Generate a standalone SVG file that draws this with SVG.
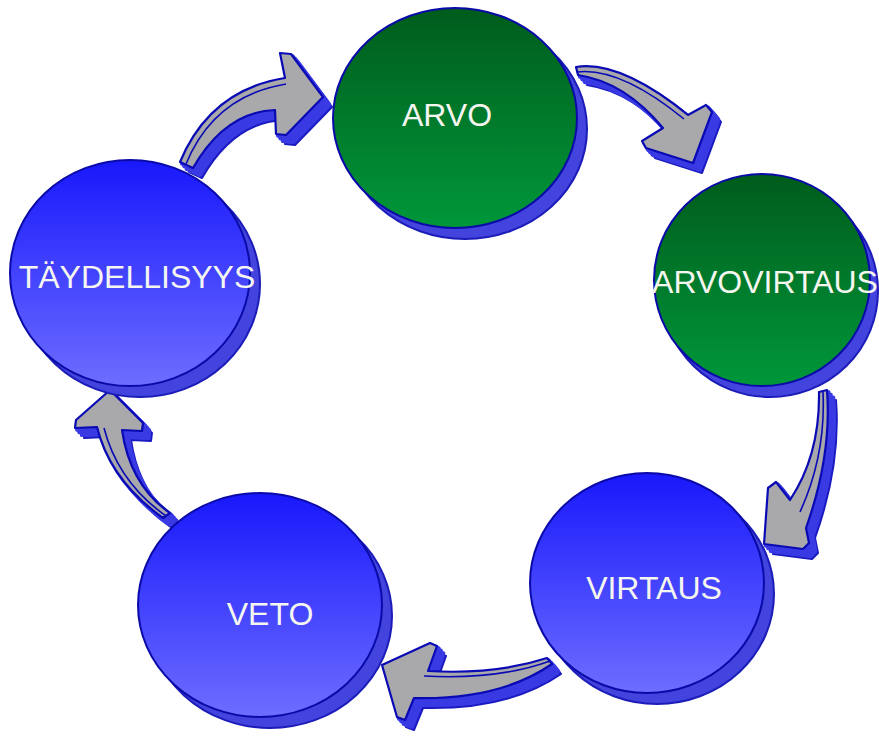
<svg xmlns="http://www.w3.org/2000/svg" xmlns:xlink="http://www.w3.org/1999/xlink" width="879" height="737" viewBox="0 0 879 737">
<style>
.face{fill:#a9a9ab;stroke:#0a0ab4;stroke-width:2.2;stroke-linejoin:round}
.ext{fill:#3a3ae4;stroke:#3a3ae4;stroke-width:3.5;stroke-linejoin:round}
.extb{fill:#3a3ae4;stroke:#1a1ac0;stroke-width:2;stroke-linejoin:round}
.hl{fill:none;stroke:#0a0ab4;stroke-width:1.6}
.sh{fill:#4343de;stroke:#1c1cb8;stroke-width:2}
.blue{fill:url(#gb);stroke:#0a0aa8;stroke-width:2}
.green{fill:url(#gg);stroke:#0a0aa8;stroke-width:2}
.lbl{font-family:"Liberation Sans",Arial,sans-serif;font-size:32px;fill:#f6f6f0;text-anchor:middle}
</style>
<defs>
<linearGradient id="gb" x1="0" y1="0" x2="0" y2="1">
<stop offset="0" stop-color="#1818fc"/>
<stop offset="1" stop-color="#6d6dff"/>
</linearGradient>
<linearGradient id="gg" x1="0" y1="0" x2="0" y2="1">
<stop offset="0" stop-color="#005c1c"/>
<stop offset="1" stop-color="#00973a"/>
</linearGradient>
<path id="a1" d="M180,162 Q210,90 285,78 L280,53 L291,54 L323,97 L286,135 L276,134 L275,110 Q225,112 193,168 Z"/>
<path id="a2" d="M576,67 Q620,60 688,115 L706,105 L712,112 L693,163 L646,148 L642,141 L663,128 Q625,82 578,75 Z"/>
<path id="a3" d="M819,392 Q820,455 790,500 L776,482 L768,488 L764,544 L803,549 L809,543 L806,528 Q832,455 827,390 Z"/>
<path id="a4" d="M547,658 Q495,675 428,671 L437,646 L430,643 L382,665 L397,717 L405,720 L414,698 Q500,700 552,664 Z"/>
<path id="a5" d="M163,518 Q110,480 97,427 L75,428 L76,420 L110,390 L143,423 L142,431 L122,430 Q130,485 170,513 Z"/>
</defs>
<g id="connectors">
<g id="arrow-1">
<use xlink:href="#a1" class="extb" transform="translate(9,10)"/>
<use xlink:href="#a1" class="ext" transform="translate(6.5,7.2)"/>
<use xlink:href="#a1" class="ext" transform="translate(4,4.4)"/>
<use xlink:href="#a1" class="ext" transform="translate(1.8,2)"/>
<use xlink:href="#a1" class="face"/>
<path class="hl" d="M186,164 Q214,96 286,84"/>
</g>
<g id="arrow-2">
<use xlink:href="#a2" class="extb" transform="translate(9,10)"/>
<use xlink:href="#a2" class="ext" transform="translate(6.5,7.2)"/>
<use xlink:href="#a2" class="ext" transform="translate(4,4.4)"/>
<use xlink:href="#a2" class="ext" transform="translate(1.8,2)"/>
<use xlink:href="#a2" class="face"/>
<path class="hl" d="M577,72 Q620,67 684,119"/>
</g>
<g id="arrow-3">
<use xlink:href="#a3" class="extb" transform="translate(9,10)"/>
<use xlink:href="#a3" class="ext" transform="translate(6.5,7.2)"/>
<use xlink:href="#a3" class="ext" transform="translate(4,4.4)"/>
<use xlink:href="#a3" class="ext" transform="translate(1.8,2)"/>
<use xlink:href="#a3" class="face"/>
<path class="hl" d="M823,392 Q826,455 800,512"/>
</g>
<g id="arrow-4">
<use xlink:href="#a4" class="extb" transform="translate(9,10)"/>
<use xlink:href="#a4" class="ext" transform="translate(6.5,7.2)"/>
<use xlink:href="#a4" class="ext" transform="translate(4,4.4)"/>
<use xlink:href="#a4" class="ext" transform="translate(1.8,2)"/>
<use xlink:href="#a4" class="face"/>
<path class="hl" d="M550,661 Q498,680 424,676"/>
</g>
<g id="arrow-5">
<use xlink:href="#a5" class="extb" transform="translate(9,10)"/>
<use xlink:href="#a5" class="ext" transform="translate(6.5,7.2)"/>
<use xlink:href="#a5" class="ext" transform="translate(4,4.4)"/>
<use xlink:href="#a5" class="ext" transform="translate(1.8,2)"/>
<use xlink:href="#a5" class="face"/>
<path class="hl" d="M166,516 Q118,482 104,428"/>
</g>
</g>
<g id="node-arvo">
<ellipse class="sh" cx="465" cy="129" rx="122" ry="110"/>
<ellipse class="green" cx="455" cy="118" rx="122" ry="110"/>
<text class="lbl" x="447" y="126">ARVO</text>
</g>
<g id="node-arvovirtaus">
<ellipse class="sh" cx="770" cy="291" rx="108" ry="106"/>
<ellipse class="green" cx="762" cy="280" rx="108" ry="106"/>
<text class="lbl" x="765" y="293">ARVOVIRTAUS</text>
</g>
<g id="node-virtaus">
<ellipse class="sh" cx="657" cy="594" rx="117" ry="110"/>
<ellipse class="blue" cx="647" cy="583" rx="117" ry="110"/>
<text class="lbl" x="654" y="599">VIRTAUS</text>
</g>
<g id="node-veto">
<ellipse class="sh" cx="270" cy="616" rx="122" ry="112"/>
<ellipse class="blue" cx="260" cy="605" rx="122" ry="112"/>
<text class="lbl" x="270" y="625">VETO</text>
</g>
<g id="node-taydellisyys">
<ellipse class="sh" cx="140" cy="284" rx="120" ry="113"/>
<ellipse class="blue" cx="130" cy="273" rx="120" ry="113"/>
<text class="lbl" x="137" y="288">TÄYDELLISYYS</text>
</g>
</svg>
